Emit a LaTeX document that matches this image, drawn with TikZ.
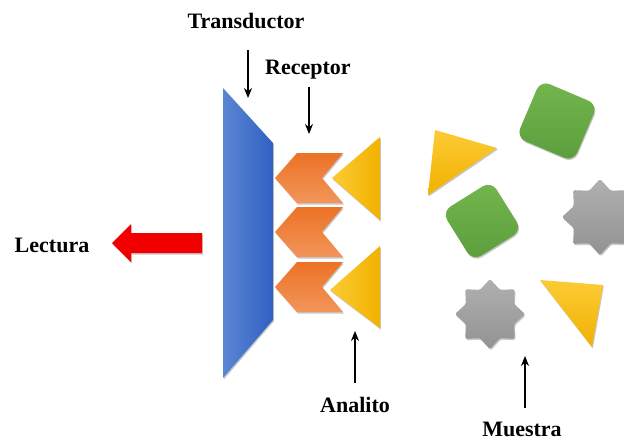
\documentclass[tikz,border=0pt]{standalone}
\usepackage{fontspec}
\setmainfont{Liberation Serif}
\usetikzlibrary{shapes.geometric,shadows,arrows.meta}

\definecolor{blueL}{HTML}{5B86D2}
\definecolor{blueD}{HTML}{3060C4}
\definecolor{orangeT}{HTML}{EC7226}
\definecolor{orangeB}{HTML}{F2955A}
\definecolor{yelL}{HTML}{FBCB35}
\definecolor{yelD}{HTML}{F2B100}
\definecolor{greenT}{HTML}{74B54E}
\definecolor{greenB}{HTML}{5A9E3C}
\definecolor{grayT}{HTML}{B0B0B0}
\definecolor{grayB}{HTML}{929292}
\definecolor{redA}{HTML}{F20000}

\begin{document}
\begin{tikzpicture}[x=1pt,y=-1pt,
  lbl/.style={font=\bfseries\fontsize{22}{24}\selectfont, text=black, inner sep=0pt},
  ptr/.style={-{Stealth[length=10pt,width=8pt]}, line width=1.4pt, black},
  soft/.style={drop shadow={shadow xshift=0.8pt, shadow yshift=-1.5pt, opacity=0.22, fill=black}},
  chevfill/.style={soft, top color=orangeT, bottom color=orangeB, draw=none},
  analyte/.style={soft, left color=yelL, right color=yelD, draw=none},
  sampletri/.style={soft, top color=yelL, bottom color=yelD, draw=none},
  block/.style={rectangle, rounded corners=10pt, minimum size=60pt, inner sep=0pt,
    soft, top color=greenT, bottom color=greenB, draw=none},
  octostar/.style={star, star points=8, star point ratio=1.34, inner sep=0pt,
    rounded corners=1.5pt, soft, top color=grayT, bottom color=grayB, draw=none},
  chevron/.pic={
    \path[chevfill] (0,0) -- (22,-25) -- (68,-25) -- (47,0) -- (68,25) -- (22,25) -- cycle;
  }
]
\clip (0,0) rectangle (624,442);
\fill[white] (0,0) rectangle (624,442);

% transducer plate
\path[soft, left color=blueL, right color=blueD]
  (223,88) -- (273,143) -- (273,320) -- (223,378) -- cycle;

% receptor chevrons
\pic at (275,178) {chevron};
\pic at (275,232) {chevron};
\pic at (275,287) {chevron};

% bound analyte triangles
\path[analyte] (332,178) -- (380,137) -- (380,220) -- cycle;
\path[analyte] (330,290) -- (380,246) -- (380,328) -- cycle;

% free sample species
\node[block, rotate=-23, minimum size=62pt] (sq1) at (557,121) {};
\node[block, rotate=32, minimum size=58pt] (sq2) at (482,221) {};
\path[sampletri] (435,130) -- (497,148) -- (428,195) -- cycle;
\path[sampletri] (540,280) -- (603,285) -- (592,347) -- cycle;
\node[octostar, minimum size=76pt] (st1) at (600,217) {};
\node[octostar, minimum size=70pt] (st2) at (490,314) {};

% read-out arrow
\path[soft, fill=redA]
  (202,233) -- (131,233) -- (131,224) -- (112,243) -- (131,262) -- (131,253) -- (202,253) -- cycle;

% labels
\node[lbl] (tr) at (246,21) {Transductor};
\node[lbl] (re) at (308,70) {Receptor};
\node[lbl] (le) at (52,245) {Lectura};
\node[lbl] (an) at (355,405) {Analito};
\node[lbl] (mu) at (522,429) {Muestra};

% pointer arrows
\coordinate (trA) at (248,50);  \coordinate (trB) at (248,98);
\coordinate (reA) at (309,87);  \coordinate (reB) at (309,134);
\coordinate (anA) at (355,383); \coordinate (anB) at (355,331);
\coordinate (muA) at (525,408); \coordinate (muB) at (525,356);
\draw[ptr] (trA) -- (trB);
\draw[ptr] (reA) -- (reB);
\draw[ptr] (anA) -- (anB);
\draw[ptr] (muA) -- (muB);
\end{tikzpicture}
\end{document}
